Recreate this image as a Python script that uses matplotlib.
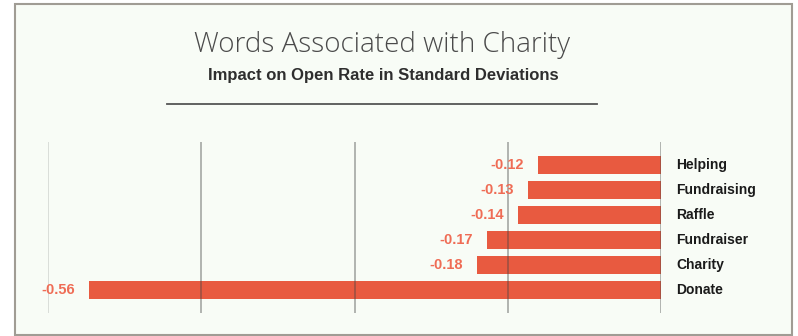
import matplotlib
matplotlib.use("Agg")
import matplotlib.pyplot as plt
from matplotlib.patches import Rectangle
from matplotlib.lines import Line2D

# data
words = ["Helping", "Fundraising", "Raffle", "Fundraiser", "Charity", "Donate"]
impact = [-0.12, -0.13, -0.14, -0.17, -0.18, -0.56]
grid_ticks = [-0.60, -0.45, -0.30, -0.15, 0.0]

W, H = 798, 336
BAR = "#e85a40"
LABEL_RED = "#ef6c55"
BG = "#f8fcf6"

fig = plt.figure(figsize=(W / 100, H / 100), dpi=100)
fig.patch.set_facecolor("white")

# panel frame
fig.patches.append(Rectangle((15 / W, 1 - 335 / H), (792 - 15) / W, (335 - 4) / H,
                             transform=fig.transFigure, facecolor=BG,
                             edgecolor="#a09c94", lw=1.5, zorder=-5))

fig.text(382 / W, 1 - 52 / H, "Words Associated with Charity", ha="center", va="baseline",
         fontsize=20, family="Open Sans", weight="light", color="#4a4a4a")
fig.text(383 / W, 1 - 80 / H, "Impact on Open Rate in Standard Deviations", ha="center",
         va="baseline", fontsize=12, family="Liberation Sans", weight="bold", color="#2e2e2e")
fig.lines.append(Line2D([167 / W, 597 / W], [1 - 104 / H, 1 - 104 / H],
                        transform=fig.transFigure, color="#555555", lw=1.3))

ax = fig.add_axes([48 / W, 1 - 313 / H, (661 - 48) / W, (313 - 142) / H])
ax.set_facecolor("none")
ypos = list(range(len(words)))
ax.barh(ypos, impact, height=0.72, color=BAR, zorder=2)

for x in grid_ticks:
    if x == grid_ticks[0]:
        ax.axvline(x, color="#d5d9d4", lw=1.2, zorder=3)
    else:
        ax.axvline(x, color="#444444", alpha=0.5, lw=1.1, zorder=3)

for y, v, w in zip(ypos, impact, words):
    ax.text(v - 0.014, y, f"{v:.2f}", ha="right", va="center", fontsize=10.5,
            family="Liberation Sans", weight="bold", color=LABEL_RED, zorder=4)
    ax.text(0.015, y, w, ha="left", va="center", fontsize=10,
            family="Liberation Sans", weight="bold", color="#1a1a1a", zorder=4)

ax.set_xlim(-0.6, 0)
ax.set_ylim(len(words) - 1 + 0.92, -0.92)
ax.axis("off")

fig.savefig("out.png", dpi=100)
